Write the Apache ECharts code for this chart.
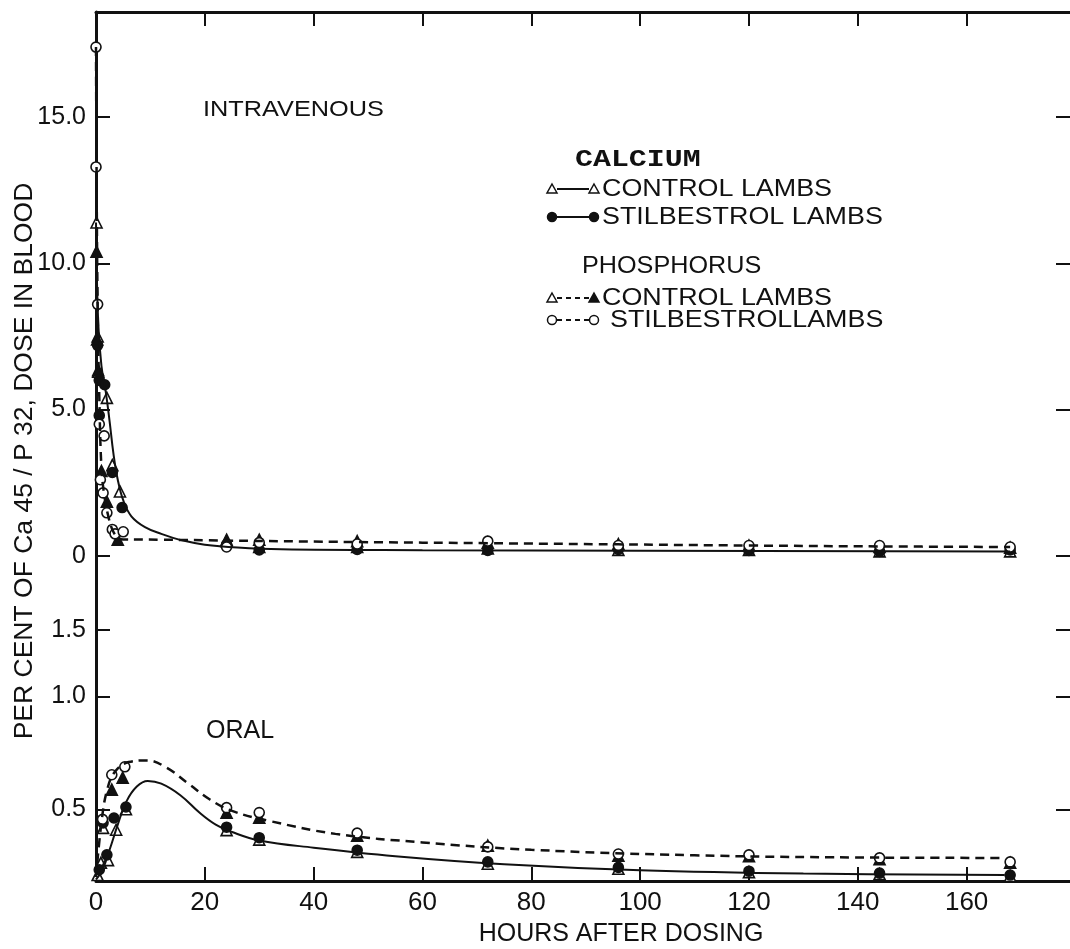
<!DOCTYPE html>
<html>
<head>
<meta charset="utf-8">
<script src="https://cdn.jsdelivr.net/npm/echarts@6/dist/echarts.min.js"></script>
<style>
  html, body { margin: 0; padding: 0; background: #fff; }
  #chart { width: 1070px; height: 949px; }
</style>
</head>
<body>
<div id="chart"></div>
<script>
// tick labels
const hourTicks = [0, 20, 40, 60, 80, 100, 120, 140, 160];
const ivTicks = [0, 5, 10, 15];
const oralTicks = [0.5, 1.0, 1.5];

// intravenous points [hours, per cent]
const ivCaControl = [[0.1, 11.4], [0.3, 7.5], [0.4, 6.3], [2, 5.4], [3, 3.1], [4.4, 2.2],
  [24, 0.5], [30, 0.3], [48, 0.3], [72, 0.25], [96, 0.2], [120, 0.2], [144, 0.15], [168, 0.15]];
const ivCaStilb = [[0.3, 7.2], [0.6, 6.0], [0.6, 4.8], [1.6, 5.85], [3, 2.85], [4.8, 1.65],
  [24, 0.38], [30, 0.2], [48, 0.22], [72, 0.18], [96, 0.22], [120, 0.18], [144, 0.15], [168, 0.2]];
const ivPControl = [[0.1, 10.4], [0.2, 7.4], [0.4, 6.35], [1, 2.9], [2, 1.85], [4, 0.55],
  [24, 0.55], [30, 0.55], [48, 0.5], [72, 0.45], [96, 0.4], [120, 0.35], [144, 0.3], [168, 0.28]];
const ivPStilb = [[0, 17.4], [0, 13.3], [0.3, 8.6], [0.6, 4.5], [1.5, 4.1], [0.8, 2.6], [1.3, 2.15],
  [2, 1.47], [3, 0.9], [3.5, 0.75], [5, 0.82], [24, 0.3], [30, 0.45], [48, 0.4], [72, 0.5],
  [96, 0.35], [120, 0.35], [144, 0.35], [168, 0.3]];
// fitted curves, intravenous
const ivCaCurve = [[0, 11.4], [0.4, 8], [1, 6.5], [1.8, 5.6], [2.5, 4.6], [3.2, 3.5], [4, 2.6],
  [5, 1.9], [6.5, 1.35], [9, 0.98], [12, 0.75], [16, 0.52], [20, 0.38], [26, 0.28], [34, 0.22],
  [60, 0.19], [100, 0.17], [168, 0.15]];
const ivPCurve = [[0, 17.4], [0.1, 13.3], [0.3, 8.6], [0.6, 5.5], [1, 3.0], [1.5, 2.1], [2.2, 1.4],
  [3, 0.9], [4, 0.62], [5, 0.56], [12, 0.55], [24, 0.52], [48, 0.47], [72, 0.43], [96, 0.39],
  [120, 0.35], [144, 0.32], [168, 0.3]];

// oral points
const oralCaControl = [[0.3, 0.334], [0.9, 0.36], [1.3, 0.446], [2.2, 0.366], [3.7, 0.441], [5.5, 0.5],
  [24, 0.44], [30, 0.415], [48, 0.385], [72, 0.358], [96, 0.347], [120, 0.34], [144, 0.336], [168, 0.332]];
const oralCaStilb = [[0.6, 0.345], [1.3, 0.46], [2, 0.378], [3.3, 0.474], [5.5, 0.507],
  [24, 0.448], [30, 0.42], [48, 0.389], [72, 0.362], [96, 0.35], [120, 0.342], [144, 0.338], [168, 0.334]];
const oralPControl = [[2.9, 0.564], [4.9, 0.607], [24, 0.49], [30, 0.475], [48, 0.425], [72, 0.4],
  [96, 0.376], [120, 0.375], [144, 0.368], [168, 0.36]];
const oralPStilb = [[1.2, 0.47], [2.9, 0.618], [5.3, 0.649], [24, 0.505], [30, 0.49], [48, 0.432],
  [72, 0.397], [96, 0.38], [120, 0.378], [144, 0.371], [168, 0.362]];
// fitted curves, oral
const oralCaCurve = [[0, 0.325], [1.2, 0.345], [2.5, 0.39], [4, 0.455], [5.6, 0.525], [7.5, 0.575],
  [9.5, 0.595], [12, 0.585], [15.5, 0.545], [19, 0.49], [22, 0.455], [25, 0.435], [30, 0.413],
  [40, 0.395], [55, 0.375], [75, 0.357], [100, 0.344], [130, 0.337], [167, 0.334]];
const oralPCurve = [[0, 0.33], [1, 0.46], [2, 0.56], [3.5, 0.63], [6, 0.668], [9.4, 0.675], [13, 0.645],
  [17, 0.585], [21, 0.53], [25, 0.495], [32, 0.465], [44, 0.43], [60, 0.408], [80, 0.39],
  [110, 0.377], [140, 0.372], [167, 0.371]];

const INK = '#111';
const SANS = "'Liberation Sans', Arial, sans-serif";

const chart = echarts.init(document.getElementById('chart'));

function xAxisFor(grid, pos, labels) {
  return {
    type: 'value', gridIndex: grid, position: pos, min: 0, max: 179,
    axisLine: { onZero: false, lineStyle: { color: INK, width: 3 } },
    axisTick: { inside: true, length: 14, customValues: hourTicks, lineStyle: { color: INK, width: 2 } },
    axisLabel: { show: labels, customValues: hourTicks, color: INK, fontSize: 26, fontFamily: SANS, margin: 9 },
    splitLine: { show: false }
  };
}
function yAxisFor(grid, type, min, max, ticks, pos, labels) {
  return {
    type: type, gridIndex: grid, position: pos, min: min, max: max,
    axisLine: { show: pos === 'left', onZero: false, lineStyle: { color: INK, width: 3 } },
    axisTick: { inside: true, length: 14, customValues: ticks, lineStyle: { color: INK, width: 2 } },
    axisLabel: {
      show: labels, customValues: ticks, color: INK, fontSize: 25, fontFamily: SANS, margin: 10,
      formatter: v => (v === 0 ? '0' : Number(v).toFixed(1))
    },
    splitLine: { show: false }, minorTick: { show: false }
  };
}

function curve(data, grid, dashed) {
  return {
    type: 'line', data: data, xAxisIndex: grid, yAxisIndex: grid * 2,
    smooth: 0.4, showSymbol: false, silent: true,
    lineStyle: { color: INK, width: dashed ? 2.5 : 2, type: dashed ? [9, 6] : 'solid' }
  };
}
function pts(data, grid, symbol, filled) {
  return {
    type: 'scatter', data: data, xAxisIndex: grid, yAxisIndex: grid * 2,
    symbol: symbol, symbolSize: symbol === 'triangle' ? 11 : 10,
    itemStyle: { color: filled ? INK : '#fff', borderColor: INK, borderWidth: 1.6, opacity: 1 }
  };
}

// legend drawn with graphic elements
function mark(kind, cx, cy) {
  const st = { fill: kind.endsWith('Fill') ? INK : '#fff', stroke: INK, lineWidth: 1.5 };
  if (kind.startsWith('tri')) {
    return { type: 'polygon', shape: { points: [[cx, cy - 5], [cx + 5, cy + 4], [cx - 5, cy + 4]] }, style: st };
  }
  return { type: 'circle', shape: { cx: cx, cy: cy, r: 4.5 }, style: st };
}
function legendRow(y, left, right, dashed, label, tx) {
  return [
    { type: 'line', shape: { x1: 557, y1: y, x2: 589, y2: y },
      style: { stroke: INK, lineWidth: 2, lineDash: dashed ? [5, 4] : null } },
    mark(left, 552, y), mark(right, 594, y),
    { type: 'text', x: tx, y: y, scaleX: 1.12,
      style: { text: label, font: '24px ' + SANS, fill: INK, align: 'left', verticalAlign: 'middle' } }
  ];
}

const graphics = [].concat(
  [{ type: 'text', x: 575, y: 160, scaleX: 1.3,
     style: { text: 'CALCIUM', font: 'bold 23px "Liberation Mono", monospace', fill: INK, align: 'left', verticalAlign: 'middle' } },
   { type: 'text', x: 582, y: 266, scaleX: 1.05,
     style: { text: 'PHOSPHORUS', font: '24px ' + SANS, fill: INK, align: 'left', verticalAlign: 'middle' } }],
  legendRow(189, 'triOpen', 'triOpen', false, 'CONTROL LAMBS', 602),
  legendRow(217, 'circFill', 'circFill', false, 'STILBESTROL LAMBS', 602),
  legendRow(298, 'triOpen', 'triFill', true, 'CONTROL LAMBS', 602),
  legendRow(320, 'circOpen', 'circOpen', true, 'STILBESTROLLAMBS', 610),
  [{ type: 'text', x: 203, y: 110, scaleX: 1.15,
     style: { text: 'INTRAVENOUS', font: '22px ' + SANS, fill: INK, align: 'left', verticalAlign: 'middle' } },
   { type: 'text', x: 206, y: 731,
     style: { text: 'ORAL', font: '25px ' + SANS, fill: INK, align: 'left', verticalAlign: 'middle' } },
   { type: 'text', x: 621, y: 934,
     style: { text: 'HOURS AFTER DOSING', font: '25px ' + SANS, fill: INK, align: 'center', verticalAlign: 'middle' } },
   { type: 'text', x: 25, y: 461, rotation: Math.PI / 2,
     style: { text: 'PER CENT OF Ca 45 / P 32, DOSE IN BLOOD', font: '26.5px ' + SANS, fill: INK, align: 'center', verticalAlign: 'middle' } }]
);

chart.setOption({
  animation: false,
  backgroundColor: '#fff',
  grid: [
    { left: 96, right: 0, top: 12, height: 573, containLabel: false, outerBoundsMode: 'none' },
    { left: 96, right: 0, top: 585, height: 296, containLabel: false, outerBoundsMode: 'none' }
  ],
  xAxis: [xAxisFor(0, 'top', false), xAxisFor(1, 'bottom', true)],
  yAxis: [
    yAxisFor(0, 'value', -1, 18.6, ivTicks, 'left', true),
    yAxisFor(0, 'value', -1, 18.6, ivTicks, 'right', false),
    yAxisFor(1, 'log', 0.322, 1.98, oralTicks, 'left', true),
    yAxisFor(1, 'log', 0.322, 1.98, oralTicks, 'right', false)
  ],
  series: [
    curve(ivCaCurve, 0, false), curve(ivPCurve, 0, true),
    pts(ivCaControl, 0, 'triangle', false), pts(ivCaStilb, 0, 'circle', true),
    pts(ivPControl, 0, 'triangle', true), pts(ivPStilb, 0, 'circle', false),
    curve(oralCaCurve, 1, false), curve(oralPCurve, 1, true),
    pts(oralCaControl, 1, 'triangle', false), pts(oralCaStilb, 1, 'circle', true),
    pts(oralPControl, 1, 'triangle', true), pts(oralPStilb, 1, 'circle', false)
  ],
  graphic: graphics
});
</script>
</body>
</html>
